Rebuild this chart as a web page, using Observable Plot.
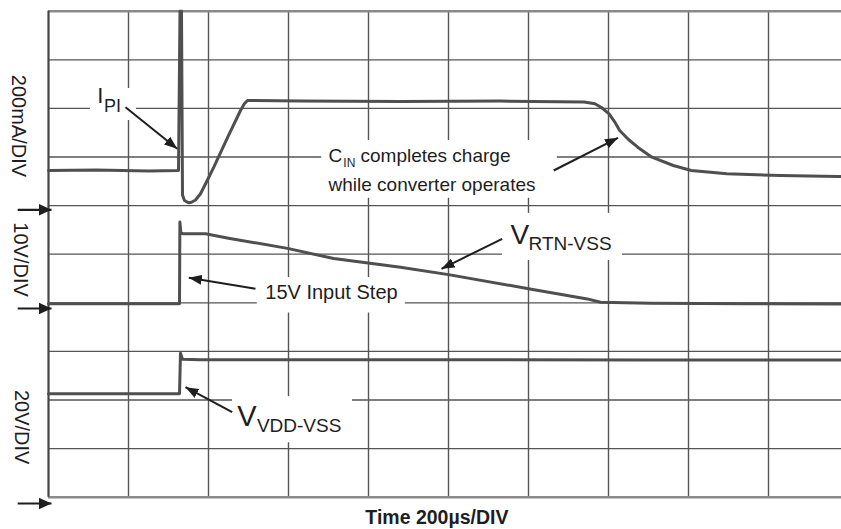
<!DOCTYPE html>
<html>
<head>
<meta charset="utf-8">
<script src="https://cdn.jsdelivr.net/npm/d3@7"></script>
<script src="https://cdn.jsdelivr.net/npm/@observablehq/plot@0.6"></script>
<style>
  html, body { margin: 0; padding: 0; background: #fff; }
  #chart svg { display: block; }
</style>
</head>
<body>
<div id="chart"></div>
<script>
// ---- Data (time in µs, 200 µs/DIV; vertical position in screen divisions) ----
const timeTicks = [0, 200, 400, 600, 800, 1000, 1200, 1400, 1600, 1800, 2000];
const divTicks = [0, 1, 2, 3, 4, 5, 6, 7, 8, 9, 10];

// Channel 1: I_PI (200mA/DIV)
const ipiTrace = [
  [0, 6.72], [120, 6.73], [250, 6.71], [325, 6.72], [328.75, 10], [332.5, 10],
  [335, 6.22], [340, 6.105], [347.5, 6.07], [352, 6.06], [357.5, 6.07],
  [367.5, 6.115], [380, 6.243], [396.75, 6.517], [413.25, 6.79],
  [447.5, 7.40], [480, 7.957], [490, 8.10], [497.5, 8.163],
  [630, 8.15], [880, 8.14], [1130, 8.15], [1339, 8.132], [1366, 8.095],
  [1382.5, 8.019], [1401.5, 7.889], [1415, 7.73], [1428, 7.545],
  [1450, 7.36], [1473, 7.202], [1508.5, 6.996], [1562, 6.825],
  [1607, 6.722], [1696, 6.654], [1830, 6.619], [1972.5, 6.599], [2000, 6.595]
];

// Channel 2: V_RTN-VSS (10V/DIV)
const vrtnTrace = [
  [0, 3.98], [200, 3.98], [327.5, 3.98], [328.5, 5.66], [331, 5.43],
  [337.5, 5.42], [392.5, 5.42], [450, 5.33], [597.5, 5.12], [713, 4.91],
  [880, 4.73], [1000, 4.58], [1200, 4.29], [1347, 4.08], [1380, 4.01],
  [1505, 3.99], [1750, 3.98], [2000, 3.975]
];

// Channel 3: V_VDD-VSS (20V/DIV)
const vddTrace = [
  [0, 2.13], [200, 2.13], [327.5, 2.13], [330, 2.96], [335, 2.84],
  [380, 2.83], [1000, 2.83], [1500, 2.825], [2000, 2.825]
];

// Channel ground reference markers (divisions)
const groundLevels = [5.914, 3.883, -0.13];

// Texts
const axisLabels = ["200mA/DIV", "10V/DIV", "20V/DIV"];
const timeLabel = "Time 200µs/DIV";
const annotationTexts = ["I", "PI", "C", "IN", "completes charge", "while converter operates",
  "V", "RTN-VSS", "15V Input Step", "V", "VDD-VSS"];

// ---- Layout (positions in data coordinates) ----
const annLayout = [
  {x: 122, y: 8.12, size: 22},
  {x: 139, y: 7.93, size: 18},
  {x: 700, y: 6.89, size: 19},
  {x: 737, y: 6.80, size: 12},
  {x: 780, y: 6.89, size: 19},
  {x: 700, y: 6.31, size: 19},
  {x: 1155, y: 5.21, size: 28},
  {x: 1200, y: 5.08, size: 19},
  {x: 542, y: 4.08, size: 20},
  {x: 472, y: 1.475, size: 29},
  {x: 521, y: 1.34, size: 19}
];
const annotations = annotationTexts.map((text, i) => ({text, ...annLayout[i]}));

const maskBoxes = [
  {x1: 105, x2: 220, y1: 7.75, y2: 8.41},
  {x1: 683, x2: 1272, y1: 6.15, y2: 7.34},
  {x1: 1135, x2: 1435, y1: 4.87, y2: 5.84},
  {x1: 522, x2: 892, y1: 3.79, y2: 4.52},
  {x1: 460, x2: 760, y1: 1.12, y2: 2.07}
];

const pointers = [
  {x1: 192.5, y1: 8.025, x2: 321.75, y2: 7.169},
  {x1: 1263, y1: 6.722, x2: 1423.75, y2: 7.395},
  {x1: 1134.25, y1: 5.317, x2: 982.5, y2: 4.700},
  {x1: 517.5, y1: 4.288, x2: 350.75, y2: 4.514},
  {x1: 459.25, y1: 1.749, x2: 342.5, y2: 2.263}
];
const groundArrows = groundLevels.map(v => ({x1: -77, x2: 7.5, y1: v, y2: v}));

const axisLabelLayout = [
  {x: -75, y: 7.64}, {x: -70, y: 4.89}, {x: -67, y: 1.44}
];
const axisLabelData = axisLabels.map((text, i) => ({text, ...axisLabelLayout[i]}));

// ---- Filled arrowhead marker ----
function filledArrow(len, wid) {
  return (color) => {
    const m = d3.create("svg:marker")
      .attr("viewBox", `${-len} ${-wid / 2} ${len} ${wid}`)
      .attr("refX", 0).attr("refY", 0)
      .attr("markerUnits", "userSpaceOnUse")
      .attr("markerWidth", len).attr("markerHeight", wid)
      .attr("orient", "auto")
      .attr("fill", color).attr("stroke", "none");
    m.append("path").attr("d", `M${-len},${-wid / 2}L0,0L${-len},${wid / 2}Z`);
    return m.node();
  };
}

const font = "'Liberation Sans', Arial, Helvetica, sans-serif";
const traceColor = "#4f4f4f";
const inkColor = "#1e1e1e";

const chart = Plot.plot({
  width: 841,
  height: 529,
  marginLeft: 48,
  marginRight: -7,
  marginTop: 10.7,
  marginBottom: 32.3,
  style: {fontFamily: font, background: "#fff"},
  x: {domain: [0, 2000], axis: null},
  y: {domain: [0, 10], axis: null},
  marks: [
    Plot.ruleX(timeTicks, {stroke: "#555", strokeWidth: 1.4}),
    Plot.ruleY(divTicks.slice(1, -1), {stroke: "#555", strokeWidth: 1.3}),
    Plot.ruleY([0, 10], {stroke: "#8a8a8a", strokeWidth: 2.4}),
    Plot.ruleX([0], {stroke: "#444", strokeWidth: 2}),
    Plot.rect(maskBoxes, {x1: "x1", x2: "x2", y1: "y1", y2: "y2", fill: "#fff"}),
    Plot.line(ipiTrace, {x: d => d[0], y: d => d[1], stroke: traceColor, strokeWidth: 3, strokeLinejoin: "round"}),
    Plot.line(vrtnTrace, {x: d => d[0], y: d => d[1], stroke: traceColor, strokeWidth: 3, strokeLinejoin: "round"}),
    Plot.line(vddTrace, {x: d => d[0], y: d => d[1], stroke: traceColor, strokeWidth: 3, strokeLinejoin: "round"}),
    Plot.link(pointers, {x1: "x1", y1: "y1", x2: "x2", y2: "y2", stroke: inkColor, strokeWidth: 2, markerEnd: filledArrow(13, 10)}),
    Plot.link(groundArrows, {x1: "x1", y1: "y1", x2: "x2", y2: "y2", stroke: inkColor, strokeWidth: 2.2, markerEnd: filledArrow(13, 12)}),
    Plot.text(annotations, {x: "x", y: "y", text: "text", fontSize: d => d.size, textAnchor: "start", lineAnchor: "bottom", fill: inkColor}),
    Plot.text(axisLabelData, {x: "x", y: "y", text: "text", fontSize: 20, rotate: 90, textAnchor: "middle", lineAnchor: "middle", fill: inkColor}),
    Plot.text([timeLabel], {x: 971, y: -0.545, text: d => d, fontSize: 19.5, fontWeight: "bold", textAnchor: "middle", lineAnchor: "bottom", fill: inkColor})
  ]
});
document.getElementById("chart").appendChild(chart);
</script>
</body>
</html>
